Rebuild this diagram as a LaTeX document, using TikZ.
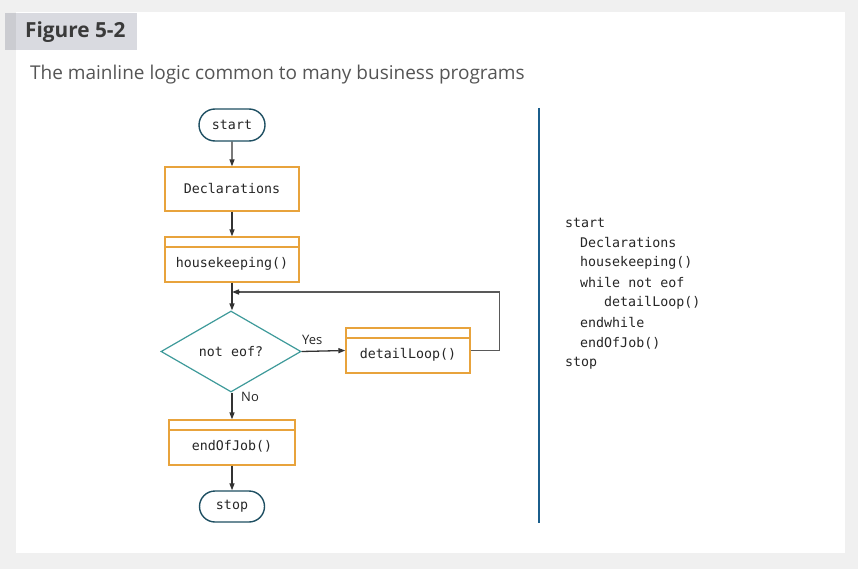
\documentclass[tikz,border=0pt]{standalone}
\usepackage{fontspec}
\setmainfont{Open Sans}
\newfontfamily\codefont{DejaVu Sans Mono}
\usetikzlibrary{shapes.geometric,shapes.misc,arrows.meta}
\definecolor{bggray}{HTML}{F0F0F0}
\definecolor{labgray}{HTML}{D9DAE0}
\definecolor{labdark}{HTML}{CBCCD1}
\definecolor{titlecol}{HTML}{3A3A3A}
\definecolor{subcol}{HTML}{555555}
\definecolor{boxorange}{HTML}{E8A33C}
\definecolor{termcol}{HTML}{1E4F62}
\definecolor{diacol}{HTML}{3E9A9A}
\definecolor{linecol}{HTML}{333333}
\definecolor{bluebar}{HTML}{1B5E8C}
\tikzset{
  codetxt/.style={font=\codefont\fontsize{13.3}{16}\selectfont, text=black!85},
  terminal/.style={rounded rectangle, draw=termcol, line width=1.4pt, minimum width=66pt, minimum height=32pt, inner sep=0pt, codetxt},
  procbox/.style={rectangle, draw=boxorange, line width=1.3pt, minimum width=134pt, minimum height=44pt, inner sep=0pt, codetxt},
  subproc/.style={procbox, text height=16pt, text depth=0pt,
    path picture={\draw[boxorange, line width=1.3pt] ([yshift=-10pt]path picture bounding box.north west) -- ([yshift=-10pt]path picture bounding box.north east);}},
  decision/.style={diamond, draw=diacol, line width=1.2pt, minimum width=140pt, minimum height=81pt, inner sep=0pt, codetxt},
  flow/.style={draw=linecol, line width=1.3pt, -{Triangle[length=7pt,width=5pt]}},
  backline/.style={draw=black!65, line width=1.3pt},
  lbl/.style={font=\fontsize{13}{15}\selectfont, text=black!85, inner sep=0pt},
  pseudo/.style={codetxt, anchor=west, inner sep=0pt}
}
\begin{document}
\begin{tikzpicture}[x=1pt,y=-1pt]
\useasboundingbox (0,0) rectangle (858,569);
\fill[bggray] (0,0) rectangle (858,569);
\fill[white] (16,12) rectangle (845,553);
\fill[labgray] (5,13) rectangle (137,50);
\fill[labdark] (5,13) rectangle (16,50);
\node[anchor=west, inner sep=0pt, font=\bfseries\fontsize{20.8}{24}\selectfont, text=titlecol] (title) at (25,32) {Figure 5-2};
\node[anchor=west, inner sep=0pt, font=\fontsize{19}{23}\selectfont, text=subcol] (subtitle) at (30,75) {The mainline logic common to many business programs};

% flowchart
\node[terminal] (start) at (232,125) {start};
\node[procbox] (decl) at (232,189) {Declarations};
\node[subproc, minimum height=45pt] (hk) at (232,259.5) {housekeeping()};
\node[decision] (eof) at (231,351.5) {not eof?};
\node[subproc, minimum width=124pt, minimum height=45pt] (dl) at (408,350.5) {detailLoop()};
\node[subproc, minimum width=126pt, minimum height=45pt] (eoj) at (232,442.5) {endOfJob()};
\node[terminal, minimum width=65pt, minimum height=31pt] (stop) at (232,506.5) {stop};
\coordinate (junc) at (232,292);

\draw[flow] (start) -- (decl);
\draw[flow] (decl) -- (hk);
\draw[flow] (hk.south) -- (hk.south |- eof.north);
\draw[backline] (dl.east) -- ++(29,0) |- ([xshift=8pt]junc);
\draw[flow] ([xshift=8pt]junc) -- (junc);
\draw[flow] (eof.east) -- (dl.west);
\draw[flow] (eof.south -| eoj.north) -- (eoj.north);
\draw[flow] (eoj) -- (stop);
\node[lbl, anchor=south west] (yes) at (302,345) {Yes};
\node[lbl, anchor=west] (no) at (241,397) {No};

% divider
\draw[bluebar, line width=2.6pt] (539,108) -- (539,523);

% pseudocode
\node[pseudo] (p1) at (565,223) {start};
\node[pseudo] (p2) at (580,243) {Declarations};
\node[pseudo] (p3) at (580,263) {housekeeping()};
\node[pseudo] (p4) at (580,283) {while not eof};
\node[pseudo] (p5) at (604,303) {detailLoop()};
\node[pseudo] (p6) at (580,323) {endwhile};
\node[pseudo] (p7) at (580,343) {endOfJob()};
\node[pseudo] (p8) at (565,363) {stop};
\end{tikzpicture}
\end{document}
